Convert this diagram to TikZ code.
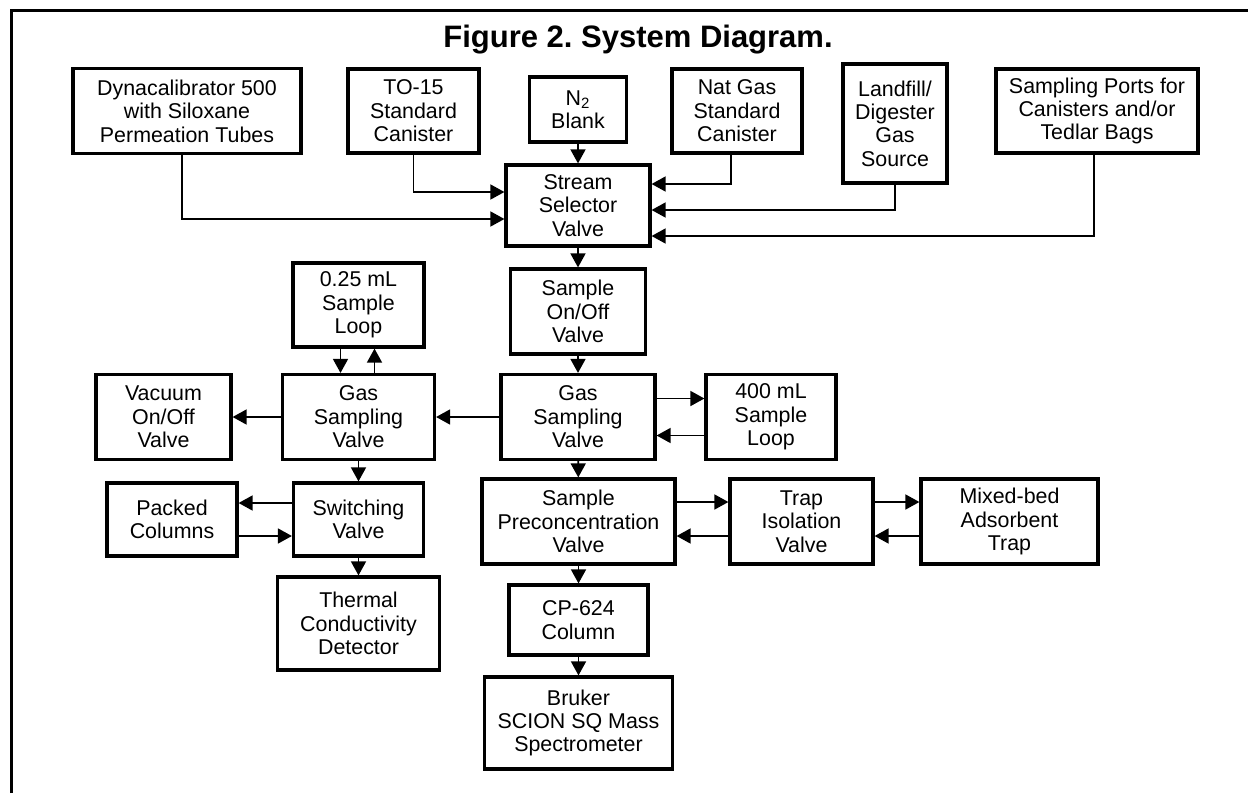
\documentclass[tikz,border=0pt]{standalone}
\usepackage{fontspec}
\setmainfont{Liberation Sans}
\usepackage{tikz}
\usetikzlibrary{arrows.meta}

\begin{document}
\begin{tikzpicture}[x=0.5pt,y=-0.5pt,
	unitbox/.style={draw,line width=1.6pt,align=center,inner sep=0pt,font=\fontsize{10.7}{11.7}\selectfont},
	flow/.style={line width=0.8pt,-{Triangle[length=7pt,width=7.5pt]}}]
	\useasboundingbox (0,0) rectangle (1248,793);
	\draw[line width=1.5pt] (11,793) -- (11,10) -- (1248,10);
	\node[anchor=base,font=\fontsize{15.5}{17}\selectfont\bfseries] (title) at (638,47.7) {\frenchspacing Figure 2. System Diagram.};
	% sources
	\node[unitbox,minimum width=114pt,minimum height=42.5pt] (dyna) at (187,111) {Dynacalibrator 500\\with Siloxane\\Permeation Tubes};
	\node[unitbox,minimum width=65.5pt,minimum height=42pt] (tofifteen) at (413.5,111) {TO-15\\Standard\\Canister};
	\node[unitbox,minimum width=48.5pt,minimum height=32.5pt] (ntwo) at (578,109.5) {N\textsubscript{2}\\Blank};
	\node[unitbox,minimum width=65pt,minimum height=42pt] (natgas) at (737,111) {Nat Gas\\Standard\\Canister};
	\node[unitbox,minimum width=52pt,minimum height=59.5pt] (landfill) at (895,123.5) {Landfill/\\Digester\\Gas\\Source};
	\node[unitbox,minimum width=101pt,minimum height=42pt] (ports) at (1097,111) {Sampling Ports for\\Canisters and/or\\Tedlar Bags};
	% main column
	\node[unitbox,minimum width=72pt,minimum height=40.5pt] (ssv) at (578,205.5) {Stream\\Selector\\Valve};
	\node[unitbox,minimum width=67.5pt,minimum height=42.5pt] (onoff) at (578,311.5) {Sample\\On/Off\\Valve};
	\node[unitbox,minimum width=77pt,minimum height=42.5pt] (gsvr) at (578,417) {Gas\\Sampling\\Valve};
	\node[unitbox,minimum width=65pt,minimum height=42.5pt] (bigloop) at (771,417) {400 mL\\Sample\\Loop};
	\node[unitbox,minimum width=96.5pt,minimum height=42.5pt] (spv) at (578.5,521.5) {Sample\\Preconcentration\\Valve};
	\node[unitbox,minimum width=71.5pt,minimum height=42.5pt] (trapiso) at (801.5,521.5) {Trap\\Isolation\\Valve};
	\node[unitbox,minimum width=88.5pt,minimum height=42.5pt] (mixbed) at (1009.5,521.5) {Mixed-bed\\Adsorbent\\Trap};
	\node[unitbox,minimum width=69.5pt,minimum height=35pt] (cp) at (578.5,620) {CP-624\\Column};
	\node[unitbox,minimum width=94pt,minimum height=46pt] (bruker) at (578.5,723) {Bruker\\SCION SQ Mass\\Spectrometer};
	% left branch
	\node[unitbox,minimum width=65.5pt,minimum height=42pt] (smallloop) at (358.5,305) {0.25 mL\\Sample\\Loop};
	\node[unitbox,minimum width=76pt,minimum height=42.5pt] (gsvl) at (358.5,417) {Gas\\Sampling\\Valve};
	\node[unitbox,minimum width=67.5pt,minimum height=42.5pt] (vacuum) at (163.5,417) {Vacuum\\On/Off\\Valve};
	\node[unitbox,minimum width=65pt,minimum height=36.5pt] (switching) at (358.5,519.5) {Switching\\Valve};
	\node[unitbox,minimum width=65pt,minimum height=36.5pt] (packed) at (172,519.5) {Packed\\Columns};
	\node[unitbox,minimum width=81pt,minimum height=46.5pt] (tcd) at (358.5,623.5) {Thermal\\Conductivity\\Detector};
	% connectors
	\draw[flow] ([xshift=-2.5pt]dyna.south) |- ([yshift=-6.75pt]ssv.west);
	\draw[flow] (tofifteen.south) |- ([yshift=6.75pt]ssv.west);
	\draw[flow] (ntwo) -- (ssv);
	\draw[flow] ([xshift=-3pt]natgas.south) |- ([yshift=10.75pt]ssv.east);
	\draw[flow] (landfill.south) |- ([yshift=-2.25pt]ssv.east);
	\draw[flow] ([xshift=-1.5pt]ports.south) |- ([yshift=-15.25pt]ssv.east);
	\draw[flow] (ssv) -- (onoff);
	\draw[flow] (onoff) -- (gsvr);
	\draw[flow] ([yshift=9.25pt]gsvr.east) -- ([yshift=9.25pt]bigloop.west);
	\draw[flow] ([yshift=-9.25pt]bigloop.west) -- ([yshift=-9.25pt]gsvr.east);
	\draw[flow] (gsvr) -- (gsvl);
	\draw[flow] ([xshift=-9pt]smallloop.south) -- ([xshift=-9pt]gsvl.north);
	\draw[flow] ([xshift=8pt]gsvl.north) -- ([xshift=8pt]smallloop.south);
	\draw[flow] (gsvl) -- (vacuum);
	\draw[flow] (gsvl) -- (switching);
	\draw[flow] ([yshift=8.25pt]switching.west) -- ([yshift=8.25pt]packed.east);
	\draw[flow] ([yshift=-8.25pt]packed.east) -- ([yshift=-8.25pt]switching.west);
	\draw[flow] (switching) -- (tcd);
	\draw[flow] (gsvr) -- (spv);
	\draw[flow] ([yshift=9.75pt]spv.east) -- ([yshift=9.75pt]trapiso.west);
	\draw[flow] ([yshift=-7.25pt]trapiso.west) -- ([yshift=-7.25pt]spv.east);
	\draw[flow] ([yshift=9.75pt]trapiso.east) -- ([yshift=9.75pt]mixbed.west);
	\draw[flow] ([yshift=-7.25pt]mixbed.west) -- ([yshift=-7.25pt]trapiso.east);
	\draw[flow] (spv) -- (cp);
	\draw[flow] (cp) -- (bruker);
\end{tikzpicture}
\end{document}
